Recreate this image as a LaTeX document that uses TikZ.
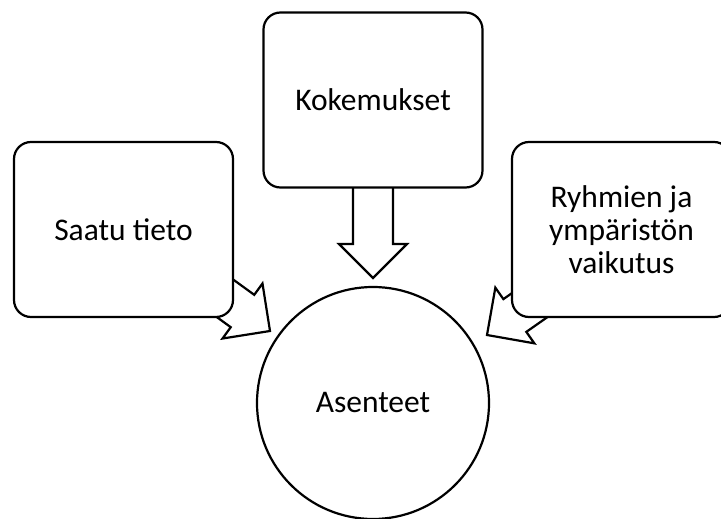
\documentclass[tikz,border=0pt]{standalone}
\usepackage{fontspec}
\setmainfont{Carlito}
\begin{document}
\begin{tikzpicture}[x=1pt,y=-1pt,
  line width=2.2pt, line join=miter,
  card/.style={draw, fill=white, rounded corners=17pt, minimum width=219pt,
    minimum height=175pt, inner sep=0pt, align=center,
    font=\fontsize{31.5}{33}\selectfont},
  hub/.style={draw, fill=white, circle, minimum size=232pt, inner sep=0pt,
    font=\fontsize{31.5}{33}\selectfont},
  blockarrow/.style={draw, fill=white}]
\useasboundingbox (0,0) rectangle (721,519);

% hollow block arrow: tip at (#1,#2), pointing at angle #3, length #4
\newcommand\hollowarrow[4]{%
  \begin{scope}[shift={(#1,#2)}, rotate=-#3]
    \draw[blockarrow] (0,0) -- (-34,34) -- (-34,20) -- (-#4,20)
      -- (-#4,-20) -- (-34,-20) -- (-34,-34) -- cycle;
  \end{scope}}

% arrows first, so the boxes cover their tails
\hollowarrow{373}{278}{90}{128}
\hollowarrow{270}{331}{36}{80}
\hollowarrow{487}{335}{145}{80}

\node[card] (tieto) at (123.5,229.5) {Saatu tieto};
\node[card] (kokemukset) at (373,100) {Kokemukset};
\node[card] (ryhmat) at (621.5,229.5) {Ryhmien ja\\ympäristön\\vaikutus};
\node[hub] (asenteet) at (373,403) {Asenteet};
\end{tikzpicture}
\end{document}
